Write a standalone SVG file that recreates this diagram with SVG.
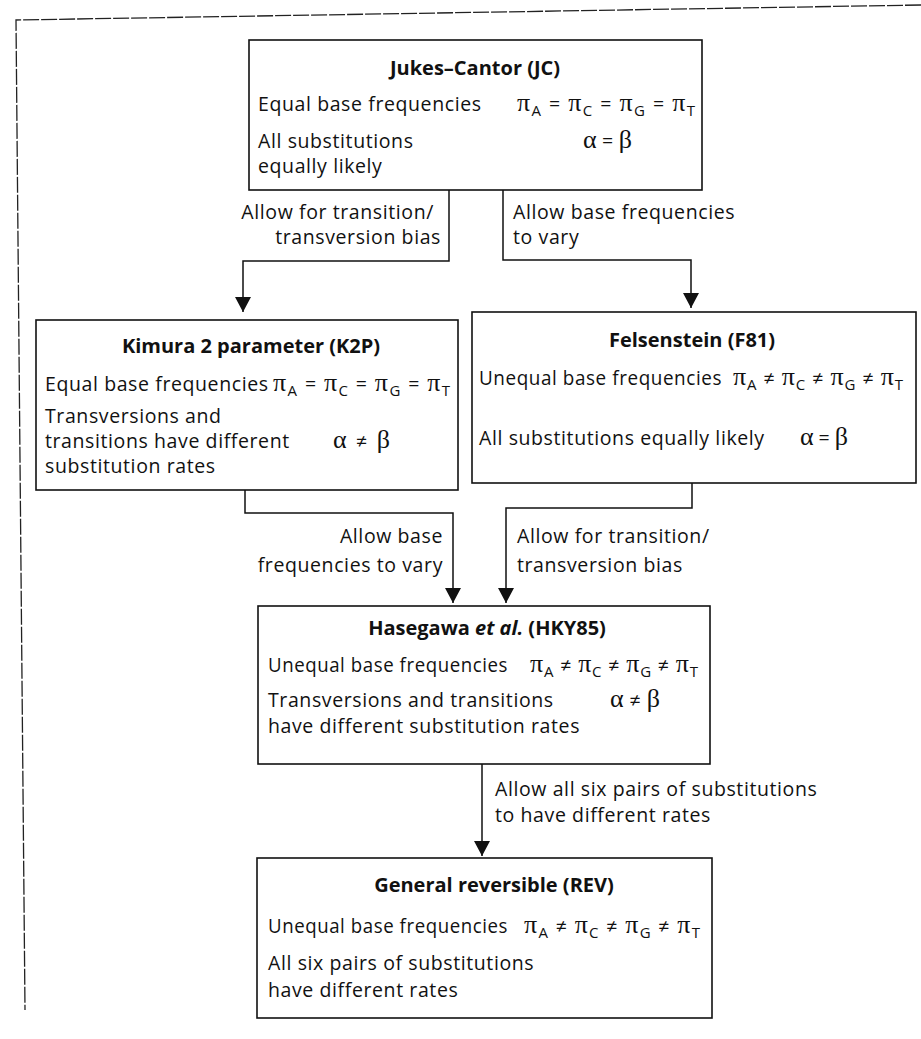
<svg xmlns="http://www.w3.org/2000/svg" width="921" height="1039" viewBox="0 0 921 1039">
<style>
  text { font-family: "Open Sans", "Noto Sans", "Liberation Sans", sans-serif; font-size: 19.5px; letter-spacing: 0.6px; fill: #111; }
  .t { font-weight: bold; font-size: 20px; letter-spacing: 0; text-anchor: middle; }
  .f { letter-spacing: 0; }
  .m { font-family: "Liberation Serif", "DejaVu Serif", serif; font-size: 26px; }
  .s { font-size: 15px; }
  .box { fill: none; stroke: #111; stroke-width: 1.6; }
  .c { fill: none; stroke: #111; stroke-width: 1.5; }
  .frame { fill: none; stroke: #222; stroke-width: 1.3; stroke-dasharray: 16 2; }
</style>
<defs>
  <marker id="ah" viewBox="0 0 15 16" refX="15" refY="8" markerWidth="15" markerHeight="16" markerUnits="userSpaceOnUse" orient="auto">
    <path d="M0,0 L15,8 L0,16 Z" fill="#111"/>
  </marker>
</defs>
<rect width="921" height="1039" fill="#fff"/>
<g id="frame">
  <path class="frame" d="M921,5 L16,20 L25,1010"/>
</g>

<g id="connectors">
  <path class="c" d="M449,190 V261 H243 V312" marker-end="url(#ah)"/>
  <path class="c" d="M503,190 V260 H691 V308" marker-end="url(#ah)"/>
  <path class="c" d="M245,490 V513 H453 V603" marker-end="url(#ah)"/>
  <path class="c" d="M692,483 V508 H506 V603" marker-end="url(#ah)"/>
  <path class="c" d="M482,764 V856" marker-end="url(#ah)"/>
  <text x="434" y="219" text-anchor="end">Allow for transition/</text>
  <text x="441" y="244" text-anchor="end">transversion bias</text>
  <text x="513" y="219">Allow base frequencies</text>
  <text x="513" y="244">to vary</text>
  <text x="443" y="543" text-anchor="end">Allow base</text>
  <text x="443" y="572" text-anchor="end">frequencies to vary</text>
  <text x="517" y="543">Allow for transition/</text>
  <text x="517" y="572">transversion bias</text>
  <text x="495" y="796">Allow all six pairs of substitutions</text>
  <text x="495" y="822">to have different rates</text>
</g>

<g id="jc">
  <rect class="box" x="249" y="40" width="453" height="150"/>
  <text class="t" x="475" y="75">Jukes–Cantor (JC)</text>
  <text x="258" y="111">Equal base frequencies</text>
  <text class="f" x="517" y="111" textLength="178" lengthAdjust="spacing"><tspan class="m">π</tspan><tspan class="s" dy="5">A</tspan><tspan dy="-5"> = </tspan><tspan class="m">π</tspan><tspan class="s" dy="5">C</tspan><tspan dy="-5"> = </tspan><tspan class="m">π</tspan><tspan class="s" dy="5">G</tspan><tspan dy="-5"> = </tspan><tspan class="m">π</tspan><tspan class="s" dy="5">T</tspan></text>
  <text x="258" y="148">All substitutions</text>
  <text class="f" x="583" y="148" textLength="49" lengthAdjust="spacing"><tspan class="m">α</tspan> = <tspan class="m">β</tspan></text>
  <text x="258" y="173">equally likely</text>
</g>

<g id="k2p">
  <rect class="box" x="36" y="320" width="422" height="170"/>
  <text class="t" x="251" y="353">Kimura 2 parameter (K2P)</text>
  <text x="45" y="391">Equal base frequencies</text>
  <text class="f" x="273" y="391" textLength="177" lengthAdjust="spacing"><tspan class="m">π</tspan><tspan class="s" dy="5">A</tspan><tspan dy="-5"> = </tspan><tspan class="m">π</tspan><tspan class="s" dy="5">C</tspan><tspan dy="-5"> = </tspan><tspan class="m">π</tspan><tspan class="s" dy="5">G</tspan><tspan dy="-5"> = </tspan><tspan class="m">π</tspan><tspan class="s" dy="5">T</tspan></text>
  <text x="45" y="423">Transversions and</text>
  <text x="45" y="448">transitions have different</text>
  <text x="45" y="473">substitution rates</text>
  <text class="f" x="333" y="448" textLength="57" lengthAdjust="spacing"><tspan class="m">α</tspan> ≠ <tspan class="m">β</tspan></text>
</g>

<g id="f81">
  <rect class="box" x="472" y="312" width="444" height="171"/>
  <text class="t" x="692" y="347">Felsenstein (F81)</text>
  <text x="479" y="385" textLength="243" lengthAdjust="spacingAndGlyphs">Unequal base frequencies</text>
  <text class="f" x="733" y="385" textLength="170" lengthAdjust="spacing"><tspan class="m">π</tspan><tspan class="s" dy="5">A</tspan><tspan dy="-5"> ≠ </tspan><tspan class="m">π</tspan><tspan class="s" dy="5">C</tspan><tspan dy="-5"> ≠ </tspan><tspan class="m">π</tspan><tspan class="s" dy="5">G</tspan><tspan dy="-5"> ≠ </tspan><tspan class="m">π</tspan><tspan class="s" dy="5">T</tspan></text>
  <text x="479" y="445">All substitutions equally likely</text>
  <text class="f" x="800" y="445" textLength="48" lengthAdjust="spacing"><tspan class="m">α</tspan> = <tspan class="m">β</tspan></text>
</g>

<g id="hky85">
  <rect class="box" x="258" y="606" width="452" height="158"/>
  <text class="t" x="487" y="635">Hasegawa <tspan font-style="italic">et al.</tspan> (HKY85)</text>
  <text x="268" y="672" textLength="240" lengthAdjust="spacingAndGlyphs">Unequal base frequencies</text>
  <text class="f" x="530" y="672" textLength="168" lengthAdjust="spacing"><tspan class="m">π</tspan><tspan class="s" dy="5">A</tspan><tspan dy="-5"> ≠ </tspan><tspan class="m">π</tspan><tspan class="s" dy="5">C</tspan><tspan dy="-5"> ≠ </tspan><tspan class="m">π</tspan><tspan class="s" dy="5">G</tspan><tspan dy="-5"> ≠ </tspan><tspan class="m">π</tspan><tspan class="s" dy="5">T</tspan></text>
  <text x="268" y="707">Transversions and transitions</text>
  <text class="f" x="610" y="707" textLength="50" lengthAdjust="spacing"><tspan class="m">α</tspan> ≠ <tspan class="m">β</tspan></text>
  <text x="268" y="733">have different substitution rates</text>
</g>

<g id="rev">
  <rect class="box" x="257" y="858" width="455" height="160"/>
  <text class="t" x="494" y="892">General reversible (REV)</text>
  <text x="268" y="933" textLength="240" lengthAdjust="spacingAndGlyphs">Unequal base frequencies</text>
  <text class="f" x="524" y="933" textLength="176" lengthAdjust="spacing"><tspan class="m">π</tspan><tspan class="s" dy="5">A</tspan><tspan dy="-5"> ≠ </tspan><tspan class="m">π</tspan><tspan class="s" dy="5">C</tspan><tspan dy="-5"> ≠ </tspan><tspan class="m">π</tspan><tspan class="s" dy="5">G</tspan><tspan dy="-5"> ≠ </tspan><tspan class="m">π</tspan><tspan class="s" dy="5">T</tspan></text>
  <text x="268" y="970">All six pairs of substitutions</text>
  <text x="268" y="997">have different rates</text>
</g>
</svg>
